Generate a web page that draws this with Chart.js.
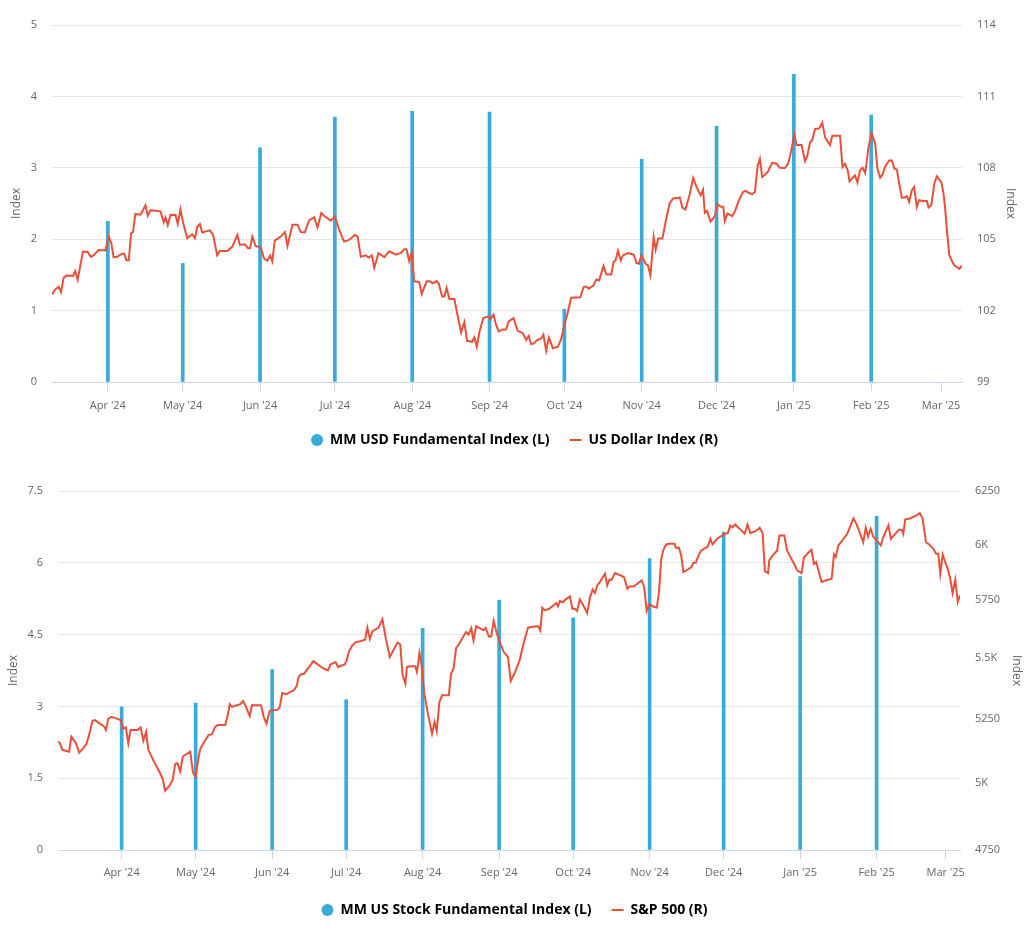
<!DOCTYPE html>
<html>
<head>
<meta charset="utf-8">
<title>MM Fundamental Indices</title>
<script src="https://cdn.jsdelivr.net/npm/chart.js@4.4.1/dist/chart.umd.min.js"></script>
<style>
  html, body { margin: 0; padding: 0; background: #fff; }
  canvas { display: block; }
</style>
</head>
<body>
<canvas id="usdChart" width="1029" height="465"></canvas>
<canvas id="stockChart" width="1029" height="469"></canvas>
<script>
// x values are days counted from 1 Mar 2024 (day 0)
const monthDays = [31, 61, 92, 122, 153, 184, 214, 245, 275, 306, 337, 365];
const monthLabels = ["Apr '24", "May '24", "Jun '24", "Jul '24", "Aug '24", "Sep '24",
  "Oct '24", "Nov '24", "Dec '24", "Jan '25", "Feb '25", "Mar '25"];

// MM USD Fundamental Index (monthly, left axis)
const usdBarDays = [31, 61, 92, 122, 153, 184, 214, 245, 275, 306, 337];
const usdBarValues = [2.25, 1.66, 3.28, 3.71, 3.79, 3.78, 1.02, 3.12, 3.58, 4.31, 3.74];

// US Dollar Index (daily, right axis)
const dxyDays = [
  8.6, 9.9, 11.3, 12.2, 13.3, 14.6, 17.0, 17.9, 18.9, 21.0, 22.9, 24.2, 25.3, 27.3, 30.0, 31.3,
  32.4, 33.3, 34.7, 36.7, 37.6, 38.4, 39.4, 40.3, 41.1, 42.0, 44.1, 46.1, 47.0, 48.1, 52.1, 53.4,
  54.1, 55.0, 56.1, 58.1, 59.0, 60.1, 61.2, 62.8, 64.8, 65.9, 66.8, 67.9, 68.8, 71.9, 73.2, 74.8,
  75.9, 78.9, 80.9, 82.9, 83.9, 85.8, 87.2, 88.0, 88.9, 90.2, 92.3, 93.6, 94.9, 96.0, 96.9, 97.9,
  100.3, 102.0, 103.0, 105.0, 107.0, 108.3, 109.9, 111.7, 113.7, 115.0, 116.6, 117.9, 120.4, 122.0,
  123.7, 125.7, 127.7, 130.0, 131.1, 132.4,
  134.4, 135.5, 136.8, 137.8, 139.5, 141.8, 143.8, 146.5, 148.5, 149.8, 150.7, 151.8, 152.8, 153.8,
  155.8, 156.8, 158.8, 160.1, 161.2, 162.8, 163.6, 165.0, 165.9, 166.8, 167.9, 169.9, 171.2, 172.6,
  173.9, 175.0, 177.0, 177.9, 178.9, 179.9, 181.5, 183.3, 184.4, 185.6, 186.6, 187.7, 189.3, 190.6,
  191.7, 193.6, 195.3, 197.3, 198.7, 199.7, 200.7, 201.8, 203.1, 204.7, 205.6, 206.7, 207.8, 209.4,
  211.4, 212.7, 214.1, 215.4, 216.7, 220.4, 221.7, 222.8, 223.8, 225.7, 226.8, 227.9, 229.7, 230.8,
  232.8, 233.7, 234.5, 235.5, 236.6, 237.5, 239.5, 241.8, 242.9, 243.9, 244.9, 246.6, 247.5, 248.5,
  249.8, 250.6, 251.6, 253.3, 254.6,
  256.2, 257.6, 260.3, 261.3, 262.5, 263.9, 264.5, 265.6, 266.9, 267.9, 268.7, 269.6, 270.3, 271.2,
  272.6, 274.3, 275.4, 276.7, 277.7, 278.3, 279.4, 281.3, 282.4, 284.0, 285.7, 286.6, 288.0, 289.3,
  290.4, 291.5, 292.4, 293.3, 294.4, 295.5, 297.3, 299.1, 300.4, 302.4, 303.5, 304.4, 306.2, 307.1,
  309.1, 310.5, 311.4, 312.5, 313.4, 314.5, 316.1, 317.4, 318.5, 319.6, 320.5, 321.4, 324.5, 325.5,
  326.5, 327.6, 328.3, 329.5, 330.5, 331.5, 332.5, 333.5, 334.6, 335.9, 337.2, 338.6, 339.5, 340.6,
  341.5, 342.6, 344.2, 345.3, 346.3, 347.3, 348.2, 349.3, 350.4, 351.3, 352.2, 353.3, 354.2, 355.3,
  356.2, 357.6, 359.3, 360.0, 361.1, 362.3, 363.3, 365.1, 366.0, 366.7, 367.4, 368.3, 369.4, 370.4,
  371.4, 372.3, 373.4
];
const dxyValues = [
  102.68, 102.89, 103.00, 102.78, 103.39, 103.47, 103.46, 103.66, 103.30, 104.48, 104.46, 104.26, 104.33, 104.55, 104.53, 105.11,
  104.83, 104.24, 104.26, 104.39, 104.39, 104.12, 104.12, 105.25, 105.31, 106.06, 106.03, 106.43, 105.99, 106.22, 106.17, 105.71,
  105.91, 105.59, 106.02, 106.03, 105.65, 106.25, 105.68, 105.04, 105.21, 105.04, 105.51, 105.64, 105.28, 105.37, 105.18, 104.33,
  104.50, 104.50, 104.69, 105.18, 104.76, 104.79, 104.62, 104.62, 105.11, 104.72, 104.65, 104.19, 104.09, 104.31, 104.07, 104.94,
  105.11, 105.30, 104.72, 105.61, 105.61, 105.30, 105.28, 105.79, 105.92, 105.50, 106.10, 105.96, 105.78, 105.96,
  105.40, 104.90, 104.97, 105.18, 105.11, 104.26,
  104.32, 104.23, 104.32, 103.80, 104.42, 104.25, 104.49, 104.35, 104.42, 104.58, 104.58, 104.08, 104.42, 103.23,
  103.20, 102.70, 103.23, 103.23, 103.15, 103.24, 103.15, 102.59, 102.59, 102.96, 102.49, 102.49, 101.79, 101.08,
  101.51, 100.73, 100.69, 100.87, 100.48, 101.08, 101.69, 101.75, 101.65, 101.83, 101.41, 101.13, 101.21, 101.21,
  101.55, 101.69, 101.15, 101.06, 100.77, 100.94, 100.59, 100.62, 100.76, 100.83, 100.99, 100.31, 100.87, 100.42,
  100.48, 100.80, 101.44, 101.93, 102.54, 102.56, 102.99, 103.01, 102.92, 103.06, 103.31, 103.27, 103.87, 103.52,
  103.52, 104.04, 104.11, 104.51, 104.11, 104.32, 104.42, 104.35, 104.00, 103.97, 104.32, 103.97, 103.90, 103.48,
  105.10, 104.56, 105.03, 105.03, 105.73,
  106.50, 106.71, 106.75, 106.33, 106.25, 106.75, 106.99, 107.57, 107.22, 106.99, 106.85, 107.08, 106.11, 106.19,
  105.74, 105.97, 106.47, 106.36, 106.36, 105.76, 106.08, 105.97, 106.18, 106.64, 106.99, 107.03, 106.94, 106.89,
  106.99, 108.10, 108.38, 107.61, 107.71, 107.82, 108.21, 108.17, 108.00, 107.99, 108.14, 108.44, 109.38, 108.96,
  108.96, 108.28, 108.51, 109.07, 109.17, 109.63, 109.65, 109.90, 109.28, 109.10, 108.96, 109.35, 109.35, 108.03,
  108.17, 107.89, 107.43, 107.57, 107.68, 107.38, 107.89, 108.00, 107.78, 108.86, 109.46, 109.00, 107.96, 107.58,
  107.71, 108.06, 108.31, 108.31, 107.96, 107.93, 107.33, 106.74, 106.75, 106.81, 106.57, 107.06, 107.19, 106.36,
  106.64, 106.61, 106.61, 106.33, 106.43, 107.33, 107.64, 107.40, 106.92, 106.22, 105.32, 104.35, 104.07, 103.89,
  103.83, 103.75, 103.89
];

// MM US Stock Fundamental Index (monthly, left axis)
const stockBarDays = [31, 61, 92, 122, 153, 184, 214, 245, 275, 306, 337];
const stockBarValues = [2.99, 3.07, 3.77, 3.14, 4.63, 5.22, 4.85, 6.09, 6.64, 5.71, 6.97];

// S&P 500 (daily, right log axis)
const spxDays = [
  5.2, 5.9, 7.0, 9.7, 10.6, 12.4, 13.8, 15.4, 16.7, 17.8, 19.2, 20.1, 22.2, 23.8, 24.6, 25.6,
  26.9, 29.0, 30.6, 31.7, 32.7, 33.7, 34.6, 37.4, 38.7, 39.8, 40.9, 41.8, 43.9, 45.5, 46.6, 47.7,
  48.6, 50.4, 51.7, 52.7, 53.6, 54.7, 55.8, 58.8, 59.9, 60.9, 61.8, 62.8, 64.5, 66.2, 67.6, 68.9,
  70.0, 73.0, 74.0, 74.8, 75.7, 79.1, 80.2, 81.1, 82.9, 83.8, 87.5, 88.6, 89.7, 91.0, 94.3, 95.1,
  96.1, 97.8, 99.4, 100.8, 101.9, 102.8, 103.8, 104.9, 106.9, 108.7, 111.0, 113.0, 114.6, 115.7,
  117.7, 118.7, 121.4, 122.2, 123.2, 124.5, 125.9, 127.6,
  129.7, 130.6, 131.6, 132.7, 135.1, 136.7, 138.1, 139.7, 141.1, 142.8, 143.9, 144.9, 146.0, 146.6,
  147.9, 150.0, 150.7, 151.7, 152.7, 153.7, 155.0, 156.0, 156.8, 157.8, 158.7, 159.8, 160.9, 163.6,
  164.5, 165.5, 166.6, 167.7, 169.3, 170.6, 171.6, 172.7, 173.6, 174.7, 176.7, 177.7, 178.5, 179.9,
  180.8, 181.8, 183.1, 184.5, 185.9, 187.6, 188.7, 190.3, 192.3, 193.7, 195.7, 197.5, 199.8, 200.7,
  201.5, 202.5, 204.3, 206.1, 207.2, 207.9, 208.6, 209.7, 211.0, 212.7, 213.7, 214.7, 215.6, 216.7,
  218.1, 219.7, 220.8, 221.9, 222.8, 223.8, 225.1, 226.9, 227.8, 228.7, 229.6, 231.0, 232.3, 234.6,
  236.0, 236.8, 238.4, 240.0, 241.8, 242.8, 243.8, 244.9, 246.5, 247.9, 248.8, 249.7, 250.6, 251.7,
  252.9, 255.1, 255.6, 256.9, 257.8, 258.7, 260.5, 261.8, 262.8, 263.7, 264.8, 265.9, 267.5, 268.6,
  269.6, 270.5, 272.3, 274.3, 275.7, 276.7, 277.7, 278.6, 279.7, 281.8, 283.5, 284.7, 285.8, 287.9,
  289.6, 290.8, 291.7, 293.0, 293.5, 294.6, 296.7, 297.6, 299.6, 300.7, 302.1, 303.9, 304.8, 306.6,
  307.5, 308.9, 310.6, 311.6, 312.5, 314.7, 316.3, 318.8, 319.7, 320.4, 321.5, 323.1, 325.1, 326.2,
  327.6, 328.8, 330.6, 331.6, 332.6, 333.5, 334.6, 335.6, 337.3, 338.7, 339.8, 341.8, 342.8, 344.8,
  346.1, 347.2, 347.8, 348.6, 350.2, 353.2, 354.5, 355.6, 357.0, 358.3, 360.0, 361.1, 362.0, 362.8,
  363.8, 364.8, 365.8, 366.7, 367.8, 368.9, 369.9, 370.8
];
const spxValues = [
  5160, 5156, 5128, 5121, 5180, 5156, 5117, 5134, 5151, 5186, 5243, 5246, 5232, 5222, 5206, 5252,
  5259, 5252, 5246, 5212, 5217, 5154, 5206, 5206, 5217, 5164, 5199, 5128, 5086, 5057, 5037, 5014,
  4970, 4989, 5012, 5073, 5076, 5044, 5102, 5121, 5040, 5022, 5076, 5130, 5160, 5186, 5190, 5219,
  5226, 5226, 5266, 5310, 5299, 5310, 5323, 5306, 5262, 5306, 5306, 5259, 5232, 5283, 5288, 5299,
  5356, 5351, 5360, 5367, 5383, 5424, 5433, 5435, 5463, 5488, 5470, 5456, 5449, 5474,
  5484, 5463, 5474, 5491, 5530, 5554, 5568, 5572,
  5578, 5630, 5582, 5615, 5630, 5666, 5582, 5505, 5533, 5566, 5559, 5428, 5394, 5463,
  5466, 5466, 5442, 5522, 5463, 5353, 5278, 5231, 5192, 5238, 5202, 5319, 5346, 5346,
  5435, 5456, 5544, 5559, 5589, 5611, 5601, 5628, 5575, 5636, 5625, 5619, 5628, 5592,
  5592, 5659, 5604, 5561, 5526, 5505, 5405, 5438, 5491, 5554, 5630, 5634, 5636, 5618,
  5717, 5705, 5712, 5727, 5737, 5722, 5746, 5740, 5753, 5766, 5712, 5712, 5702, 5753,
  5727, 5693, 5760, 5796, 5781, 5815, 5834, 5867, 5815, 5840, 5840, 5870, 5864, 5852,
  5800, 5810, 5810, 5822, 5837, 5807, 5702, 5731, 5722, 5717, 5785, 5934, 5975, 6000,
  6003, 6003, 5985, 5985, 5949, 5874, 5886, 5896, 5916, 5916, 5949, 5972, 5983, 5990,
  6025, 6000, 6025, 6041, 6049, 6052, 6088, 6080, 6092, 6068, 6049, 6092, 6052, 6061,
  6077, 6052, 5879, 5870, 5927, 5945, 5972, 6041, 6041, 5972, 5942, 5904, 5882, 5870,
  5939, 5957, 5975, 5911, 5920, 5830, 5837, 5845, 5954, 5942, 5995, 6018, 6049, 6080,
  6121, 6095, 6041, 6010, 6077, 6036, 6072, 6036, 6015, 5995, 6036, 6088, 6025, 6052,
  6068, 6068, 6049, 6116, 6119, 6135, 6146, 6121, 6010, 6000, 5980, 5957, 5957, 5867,
  5954, 5920, 5889, 5852, 5781, 5840, 5741, 5771
];
const spxTicks = [4750, 5000, 5250, 5500, 5750, 6000, 6250];

const BLUE = "#38aadc";
const RED = "#e8503a";
const TEXT = "#666666";

Chart.defaults.font.family = "'Open Sans', 'Noto Sans', sans-serif";
Chart.defaults.color = TEXT;

function pairs(xs, ys) {
  return xs.map((x, i) => ({ x: x, y: ys[i] }));
}

function makeChart(id, cfg) {
  return new Chart(document.getElementById(id), {
    data: {
      datasets: [
        {
          type: "bar",
          label: cfg.barLabel,
          data: pairs(cfg.barDays, cfg.barValues),
          xAxisID: "x",
          yAxisID: "yL",
          backgroundColor: BLUE,
          barThickness: 3,
          order: 2,
        },
        {
          type: "line",
          label: cfg.lineLabel,
          data: pairs(cfg.lineDays, cfg.lineValues),
          xAxisID: "x",
          yAxisID: "yR",
          borderColor: RED,
          borderWidth: 2,
          pointRadius: 0,
          tension: 0,
          fill: false,
          order: 1,
        },
      ],
    },
    options: {
      responsive: false,
      animation: false,
      layout: { padding: { top: cfg.padTop, left: 0, right: 0, bottom: cfg.padBottom } },
      plugins: {
        tooltip: { enabled: false },
        legend: {
          position: "bottom",
          labels: {
            usePointStyle: true,
            boxWidth: 12,
            boxHeight: 8.5,
            padding: 20,
            color: "#111111",
            font: { size: 14, weight: "bold" },
            generateLabels: () => [
              { text: cfg.barLabel, fillStyle: BLUE, strokeStyle: BLUE, lineWidth: 0, pointStyle: "circle", datasetIndex: 0 },
              { text: cfg.lineLabel, fillStyle: RED, strokeStyle: RED, lineWidth: 2, pointStyle: "line", datasetIndex: 1 },
            ],
          },
        },
      },
      scales: {
        x: {
          type: "linear",
          position: "bottom",
          offset: false,
          min: cfg.xMin,
          max: cfg.xMax,
          afterBuildTicks: (s) => { s.ticks = monthDays.map((v) => ({ value: v })); },
          afterFit: (s) => { s.height = cfg.xHeight; },
          grid: { display: true, offset: false, drawOnChartArea: false, drawTicks: true, tickLength: 9, color: "#ccd6eb" },
          border: { display: true, color: "#ccd6eb" },
          ticks: {
            autoSkip: false,
            maxRotation: 0,
            padding: cfg.xPad,
            color: TEXT,
            font: { size: 11 },
            callback: (v, i) => monthLabels[i],
          },
        },
        yL: {
          type: "linear",
          position: "left",
          min: 0,
          max: cfg.leftMax,
          afterFit: (s) => { s.width = cfg.leftWidth; },
          grid: { color: "#e6e6e6", drawTicks: false },
          border: { display: false },
          ticks: { stepSize: cfg.leftStep, padding: 15, color: TEXT, font: { size: 11 } },
          title: { display: true, text: "Index", color: TEXT, font: { size: 12 }, padding: { top: cfg.leftTitlePad, bottom: 0 } },
        },
        yR: cfg.rightScale,
      },
    },
  });
}

makeChart("usdChart", {
  barLabel: "MM USD Fundamental Index (L)",
  lineLabel: "US Dollar Index (R)",
  barDays: usdBarDays,
  barValues: usdBarValues,
  lineDays: dxyDays,
  lineValues: dxyValues,
  xMin: 8.6,
  xMax: 373.4,
  padTop: 25,
  padBottom: 8,
  xHeight: 31,
  xPad: 8,
  leftMax: 5,
  leftStep: 1,
  leftWidth: 52,
  leftTitlePad: 9,
  rightScale: {
    type: "linear",
    position: "right",
    min: 99,
    max: 114,
    afterFit: (s) => { s.width = 1029 - 962; },
    grid: { display: false, drawTicks: false },
    border: { display: false },
    ticks: { stepSize: 3, padding: 15, color: TEXT, font: { size: 11 } },
    title: { display: true, text: "Index", color: TEXT, font: { size: 12 }, padding: { top: 11, bottom: 0 } },
  },
});

makeChart("stockChart", {
  barLabel: "MM US Stock Fundamental Index (L)",
  lineLabel: "S&P 500 (R)",
  barDays: stockBarDays,
  barValues: stockBarValues,
  lineDays: spxDays,
  lineValues: spxValues,
  xMin: 5.2,
  xMax: 370.8,
  padTop: 26,
  padBottom: 7,
  xHeight: 33,
  xPad: 7,
  leftMax: 7.5,
  leftStep: 1.5,
  leftWidth: 58,
  leftTitlePad: 6,
  rightScale: {
    type: "logarithmic",
    position: "right",
    min: 4750,
    max: 6250,
    afterBuildTicks: (s) => { s.ticks = spxTicks.map((v) => ({ value: v })); },
    afterFit: (s) => { s.width = 1029 - 960; },
    grid: { display: false, drawTicks: false },
    border: { display: false },
    ticks: {
      padding: 15,
      color: TEXT,
      font: { size: 11 },
      callback: (v) => (v % 500 === 0 ? v / 1000 + "K" : String(v)),
    },
    title: { display: true, text: "Index", color: TEXT, font: { size: 12 }, padding: { top: 5, bottom: 0 } },
  },
});
</script>
</body>
</html>
